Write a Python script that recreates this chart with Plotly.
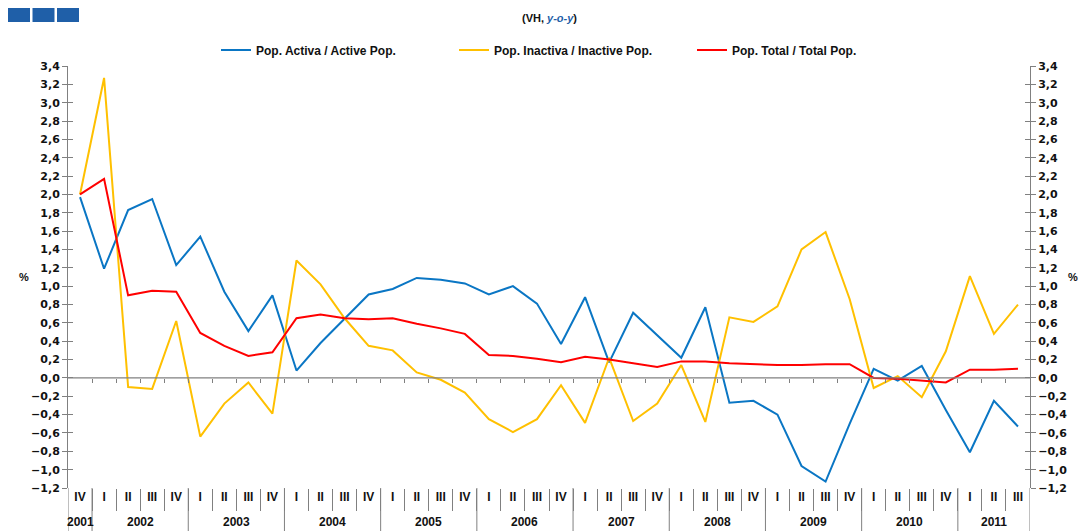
import plotly.graph_objects as go

quarters = ["IV",
            "I", "II", "III", "IV",
            "I", "II", "III", "IV",
            "I", "II", "III", "IV",
            "I", "II", "III", "IV",
            "I", "II", "III", "IV",
            "I", "II", "III", "IV",
            "I", "II", "III", "IV",
            "I", "II", "III", "IV",
            "I", "II", "III", "IV",
            "I", "II", "III"]
years = ["2001",
         "2002", "2002", "2002", "2002",
         "2003", "2003", "2003", "2003",
         "2004", "2004", "2004", "2004",
         "2005", "2005", "2005", "2005",
         "2006", "2006", "2006", "2006",
         "2007", "2007", "2007", "2007",
         "2008", "2008", "2008", "2008",
         "2009", "2009", "2009", "2009",
         "2010", "2010", "2010", "2010",
         "2011", "2011", "2011"]

active = [1.97, 1.19, 1.83, 1.95, 1.23, 1.54, 0.94, 0.51, 0.90, 0.08,
          0.38, 0.65, 0.91, 0.97, 1.09, 1.07, 1.03, 0.91, 1.00, 0.81,
          0.37, 0.88, 0.17, 0.71, 0.47, 0.22, 0.77, -0.27, -0.25, -0.40,
          -0.96, -1.13, -0.50, 0.10, -0.03, 0.13, -0.35, -0.81, -0.25, -0.53]
inactive = [2.00, 3.27, -0.10, -0.12, 0.62, -0.64, -0.28, -0.05, -0.39, 1.28,
            1.02, 0.65, 0.35, 0.30, 0.06, -0.02, -0.16, -0.45, -0.59, -0.45,
            -0.08, -0.49, 0.22, -0.47, -0.28, 0.14, -0.48, 0.66, 0.61, 0.78,
            1.40, 1.59, 0.86, -0.11, 0.02, -0.21, 0.29, 1.11, 0.48, 0.80]
total = [2.00, 2.17, 0.90, 0.95, 0.94, 0.49, 0.35, 0.24, 0.28, 0.65,
         0.69, 0.65, 0.64, 0.65, 0.59, 0.54, 0.48, 0.25, 0.24, 0.21,
         0.17, 0.23, 0.20, 0.16, 0.12, 0.18, 0.18, 0.16, 0.15, 0.14,
         0.14, 0.15, 0.15, 0.00, -0.01, -0.03, -0.05, 0.09, 0.09, 0.10]

series_names = ["Pop. Activa / Active Pop.", "Pop. Inactiva / Inactive Pop.",
                "Pop. Total / Total Pop."]
series_colors = ["#0a76c4", "#ffc000", "#ff0000"]

YMIN, YMAX = -1.2, 3.4
n = len(quarters)
idx = list(range(n))

fig = go.Figure()
for name, vals, col in zip(series_names, [active, inactive, total], series_colors):
    fig.add_trace(go.Scatter(x=idx, y=vals, name=name, mode="lines",
                             line=dict(color=col, width=2), hoverinfo="skip"))

# zero line drawn on a secondary x axis positioned at y=0 (carries boundary ticks)
fig.add_trace(go.Scatter(x=[-0.5, n - 0.5], y=[0, 0], mode="lines", xaxis="x2", yaxis="y2",
                         line=dict(color="#808080", width=1.2), showlegend=False,
                         hoverinfo="skip"))
# invisible carriers for the inner tick axes
for ya in ["y3", "y4"]:
    fig.add_trace(go.Scatter(x=[None], y=[None], yaxis=ya, showlegend=False,
                             hoverinfo="skip", mode="lines"))

tickfont = dict(family="DejaVu Sans, Arial", size=11, color="#111111", weight="bold")
axis_col = "#808080"
bottom_px = 43
plot_h = 531 - 66 - bottom_px

boundaries = [k - 0.5 for k in range(1, n)]

ycommon = dict(range=[YMIN, YMAX], tick0=0, dtick=0.2, tickformat=".1f",
               showgrid=False, zeroline=False, tickcolor=axis_col)

fig.update_layout(
    width=1088, height=531,
    margin=dict(l=68, r=58, t=66, b=bottom_px),
    paper_bgcolor="white", plot_bgcolor="white",
    separators=", ",
    showlegend=True,
    legend=dict(orientation="h", x=(216 - 68) / 962, xanchor="left", y=1 + 16 / plot_h,
                yanchor="middle",
                font=dict(family="Arial, Liberation Sans", size=12, color="#111111", weight="bold"),
                entrywidth=193, entrywidthmode="pixels", itemwidth=30,
                bgcolor="rgba(0,0,0,0)"),
    xaxis=dict(range=[-0.5, n - 0.5], tickmode="array", tickvals=idx, ticktext=quarters,
               ticks="", showgrid=False, zeroline=False, showline=False,
               tickfont=dict(family="Arial, Liberation Sans", size=12, color="#111111", weight="bold"),
               minor=dict(tickmode="array", tickvals=boundaries, ticks="outside", ticklen=22,
                          tickcolor=axis_col, tickwidth=1, showgrid=False)),
    xaxis2=dict(range=[-0.5, n - 0.5], overlaying="x", anchor="free",
                position=(0 - YMIN) / (YMAX - YMIN),
                tickmode="array", tickvals=boundaries, ticks="outside", ticklen=4,
                tickcolor=axis_col, showticklabels=False, showgrid=False, zeroline=False,
                showline=False),
    yaxis=dict(**ycommon, ticks="outside", ticklen=5, showline=True,
               linecolor=axis_col, linewidth=1, tickfont=tickfont),
    yaxis2=dict(**ycommon, overlaying="y", side="right", anchor="x", ticks="outside",
                ticklen=5, showline=True, linecolor=axis_col, linewidth=1, tickfont=tickfont),
    yaxis3=dict(**ycommon, overlaying="y", side="left", anchor="x", ticks="inside",
                ticklen=5, showticklabels=False, showline=False),
    yaxis4=dict(**ycommon, overlaying="y", side="right", anchor="x", ticks="inside",
                ticklen=5, showticklabels=False, showline=False),
)

# year labels and year dividers below the plot
year_order = []
for y in years:
    if y not in year_order:
        year_order.append(y)
div_y = -bottom_px / plot_h
for y in year_order:
    pos = [i for i, yy in enumerate(years) if yy == y]
    center = sum(pos) / len(pos)
    fig.add_annotation(x=center, xref="x", y=-(522 - 488) / plot_h, yref="paper",
                       text=y, showarrow=False, yanchor="middle",
                       font=dict(family="Arial, Liberation Sans", size=12, color="#111111",
                                 weight="bold"))
    fig.add_shape(type="line", xref="x", yref="paper", x0=pos[0] - 0.5, x1=pos[0] - 0.5,
                  y0=0, y1=div_y, line=dict(color=axis_col, width=1))
fig.add_shape(type="line", xref="x", yref="paper", x0=n - 0.5, x1=n - 0.5,
              y0=0, y1=div_y, line=dict(color=axis_col, width=1))

# % labels on both sides
for xp in [-(68 - 17) / 962, 1 + (1080 - 1030) / 962]:
    fig.add_annotation(x=xp, xref="paper", y=1.1, yref="y", text="%", showarrow=False,
                       font=dict(family="Arial, Liberation Sans", size=11, color="#111111",
                                 weight="bold"))

# subtitle
fig.add_annotation(x=0.5, xref="paper", y=1 + (66 - 18) / plot_h, yref="paper",
                   text="(VH, <i><span style='color:#1f5fa8'>y-o-y</span></i>)",
                   showarrow=False, yanchor="middle",
                   font=dict(family="Arial, Liberation Sans", size=11, color="#111111",
                             weight="bold"))

# decorative header blocks (top-left)
for k in range(3):
    fig.add_shape(type="rect", xref="paper", yref="paper",
                  x0=(8 + k * 24.5 - 68) / 962, x1=(8 + k * 24.5 + 22 - 68) / 962,
                  y0=1 + (66 - 22) / plot_h, y1=1 + (66 - 8) / plot_h,
                  fillcolor="#1f5fa8", line=dict(width=0))

fig.write_html("out.html", config={"displayModeBar": False},
               post_script="document.body.style.margin='0';document.body.style.overflow='hidden';")
